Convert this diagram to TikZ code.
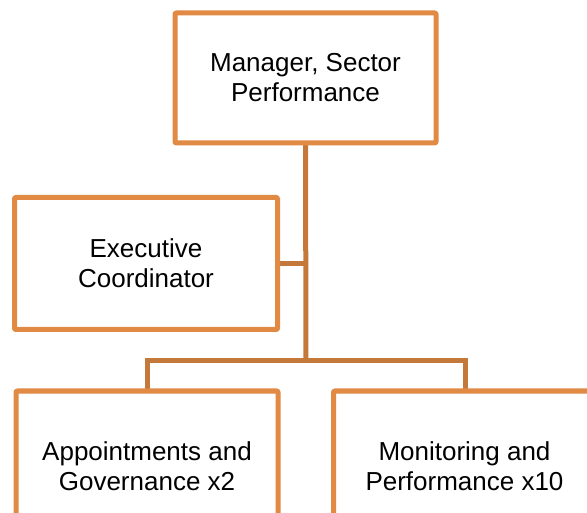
\documentclass[tikz,border=0pt]{standalone}
\usepackage{fontspec}
\setmainfont{Liberation Sans}
\definecolor{boxc}{RGB}{224,138,67}
\definecolor{linec}{RGB}{196,121,58}
\begin{document}
\begin{tikzpicture}[x=1pt,y=-1pt,
  orgbox/.style={draw=boxc, line width=5pt, fill=white, line join=round, rounded corners=1pt,
    align=center, inner sep=0pt, font=\fontsize{26}{30}\selectfont},
  conn/.style={draw=linec, line width=5pt}]
\useasboundingbox (0,0) rectangle (587,513);
\clip (0,0) rectangle (587,513);
\coordinate (bar) at (306,361);
\draw[conn] (305.5,143) -- (bar);
\draw[conn] (147,391) |- (bar) -| (465,391);
\draw[conn] (277,263.5) -- (306,263.5);
\node[orgbox, minimum width=261pt, minimum height=130pt] (top) at (305.5,78) {Manager, Sector\\Performance};
\node[orgbox, minimum width=263pt, minimum height=132pt] (exec) at (146,263.5) {Executive\\Coordinator};
\node[orgbox, minimum width=262pt, minimum height=150pt] (bl) at (147,466) {Appointments and\\Governance x2};
\node[orgbox, minimum width=262pt, minimum height=150pt] (br) at (464.5,466) {Monitoring and\\Performance x10};
\end{tikzpicture}
\end{document}
